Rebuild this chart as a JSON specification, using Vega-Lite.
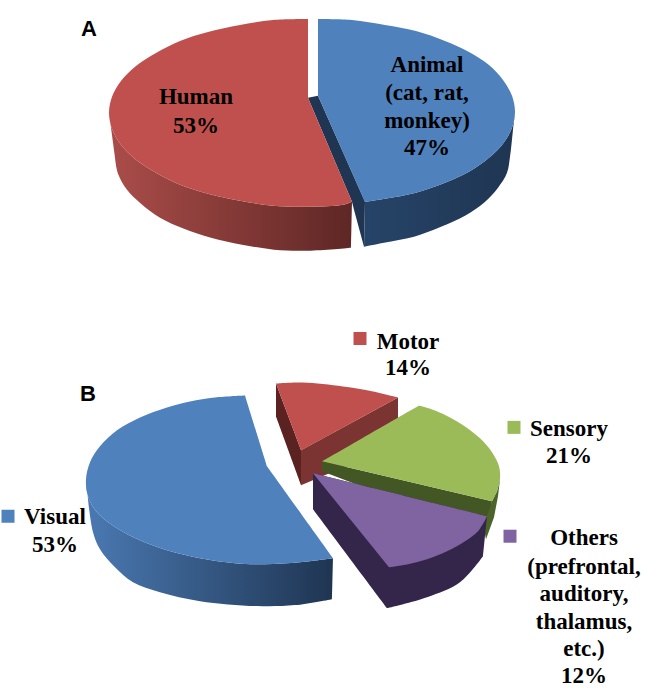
{
"$schema":"https://vega.github.io/schema/vega-lite/v6.json",
"width":645,"height":688,"padding":0,
"autosize":{"type":"fit","contains":"padding"},
"background":"white",
"config":{"view":{"stroke":null}},
"datasets":{
"outlines":[
{"shape":"a_blue_wall","seq":1,"x":318,"y":96},{"shape":"a_blue_wall","seq":2,"x":308,"y":98},{"shape":"a_blue_wall","seq":3,"x":352,"y":202},{"shape":"a_blue_wall","seq":4,"x":354,"y":210},{"shape":"a_blue_wall","seq":5,"x":364,"y":247},{"shape":"a_blue_wall","seq":6,"x":365,"y":202},
{"shape":"a_blue_side","seq":1,"x":365,"y":202},{"shape":"a_blue_side","seq":2,"x":385,"y":199},{"shape":"a_blue_side","seq":3,"x":416,"y":193},{"shape":"a_blue_side","seq":4,"x":445,"y":183},{"shape":"a_blue_side","seq":5,"x":469,"y":172},{"shape":"a_blue_side","seq":6,"x":489,"y":158},{"shape":"a_blue_side","seq":7,"x":503,"y":144},{"shape":"a_blue_side","seq":8,"x":512,"y":128},{"shape":"a_blue_side","seq":9,"x":515,"y":112},{"shape":"a_blue_side","seq":9.5,"x":515,"y":112},{"shape":"a_blue_side","seq":10,"x":513,"y":130},{"shape":"a_blue_side","seq":11,"x":510,"y":157},{"shape":"a_blue_side","seq":12,"x":507,"y":173},{"shape":"a_blue_side","seq":13,"x":498,"y":188},{"shape":"a_blue_side","seq":14,"x":484,"y":203},{"shape":"a_blue_side","seq":15,"x":465,"y":216},{"shape":"a_blue_side","seq":16,"x":441,"y":227},{"shape":"a_blue_side","seq":17,"x":414,"y":237},{"shape":"a_blue_side","seq":18,"x":384,"y":243},{"shape":"a_blue_side","seq":19,"x":364,"y":247},
{"shape":"a_red_side","seq":1,"x":109,"y":113},{"shape":"a_red_side","seq":2,"x":112,"y":129},{"shape":"a_red_side","seq":3,"x":121,"y":145},{"shape":"a_red_side","seq":4,"x":136,"y":160},{"shape":"a_red_side","seq":5,"x":156,"y":173},{"shape":"a_red_side","seq":6,"x":180,"y":185},{"shape":"a_red_side","seq":7,"x":208,"y":194},{"shape":"a_red_side","seq":8,"x":240,"y":201},{"shape":"a_red_side","seq":9,"x":273,"y":206},{"shape":"a_red_side","seq":10,"x":308,"y":207},{"shape":"a_red_side","seq":11,"x":343,"y":205},{"shape":"a_red_side","seq":12,"x":352,"y":202},{"shape":"a_red_side","seq":12.5,"x":352,"y":202},{"shape":"a_red_side","seq":13,"x":351,"y":248},{"shape":"a_red_side","seq":13.5,"x":351,"y":248},{"shape":"a_red_side","seq":14,"x":308,"y":251},{"shape":"a_red_side","seq":15,"x":274,"y":250},{"shape":"a_red_side","seq":16,"x":242,"y":245},{"shape":"a_red_side","seq":17,"x":211,"y":238},{"shape":"a_red_side","seq":18,"x":184,"y":229},{"shape":"a_red_side","seq":19,"x":160,"y":218},{"shape":"a_red_side","seq":20,"x":141,"y":204},{"shape":"a_red_side","seq":21,"x":127,"y":190},{"shape":"a_red_side","seq":22,"x":118,"y":174},{"shape":"a_red_side","seq":23,"x":115,"y":158},
{"shape":"a_red_top","seq":1,"x":352,"y":202},{"shape":"a_red_top","seq":2,"x":343,"y":205},{"shape":"a_red_top","seq":3,"x":308,"y":207},{"shape":"a_red_top","seq":4,"x":273,"y":206},{"shape":"a_red_top","seq":5,"x":240,"y":201},{"shape":"a_red_top","seq":6,"x":208,"y":194},{"shape":"a_red_top","seq":7,"x":180,"y":185},{"shape":"a_red_top","seq":8,"x":156,"y":173},{"shape":"a_red_top","seq":9,"x":136,"y":160},{"shape":"a_red_top","seq":10,"x":121,"y":145},{"shape":"a_red_top","seq":11,"x":112,"y":129},{"shape":"a_red_top","seq":12,"x":109,"y":113},{"shape":"a_red_top","seq":13,"x":112,"y":97},{"shape":"a_red_top","seq":14,"x":121,"y":81},{"shape":"a_red_top","seq":15,"x":136,"y":66},{"shape":"a_red_top","seq":16,"x":156,"y":53},{"shape":"a_red_top","seq":17,"x":180,"y":41},{"shape":"a_red_top","seq":18,"x":208,"y":32},{"shape":"a_red_top","seq":19,"x":240,"y":25},{"shape":"a_red_top","seq":20,"x":273,"y":20},{"shape":"a_red_top","seq":21,"x":308,"y":19},{"shape":"a_red_top","seq":21.5,"x":308,"y":19},{"shape":"a_red_top","seq":22,"x":308,"y":98},
{"shape":"a_blue_top","seq":1,"x":318,"y":19},{"shape":"a_blue_top","seq":2,"x":352,"y":20},{"shape":"a_blue_top","seq":3,"x":385,"y":25},{"shape":"a_blue_top","seq":4,"x":416,"y":31},{"shape":"a_blue_top","seq":5,"x":445,"y":41},{"shape":"a_blue_top","seq":6,"x":469,"y":52},{"shape":"a_blue_top","seq":7,"x":489,"y":65},{"shape":"a_blue_top","seq":8,"x":503,"y":80},{"shape":"a_blue_top","seq":9,"x":512,"y":96},{"shape":"a_blue_top","seq":10,"x":515,"y":112},{"shape":"a_blue_top","seq":11,"x":512,"y":128},{"shape":"a_blue_top","seq":12,"x":503,"y":144},{"shape":"a_blue_top","seq":13,"x":489,"y":158},{"shape":"a_blue_top","seq":14,"x":469,"y":172},{"shape":"a_blue_top","seq":15,"x":445,"y":183},{"shape":"a_blue_top","seq":16,"x":416,"y":193},{"shape":"a_blue_top","seq":17,"x":385,"y":199},{"shape":"a_blue_top","seq":18,"x":365,"y":202},{"shape":"a_blue_top","seq":18.5,"x":365,"y":202},{"shape":"a_blue_top","seq":19,"x":318,"y":96},
{"shape":"b_blue_side","seq":1,"x":86,"y":480},{"shape":"b_blue_side","seq":2,"x":88,"y":497},{"shape":"b_blue_side","seq":3,"x":97,"y":513},{"shape":"b_blue_side","seq":4,"x":117,"y":529},{"shape":"b_blue_side","seq":5,"x":140,"y":541},{"shape":"b_blue_side","seq":6,"x":167,"y":551},{"shape":"b_blue_side","seq":7,"x":200,"y":559},{"shape":"b_blue_side","seq":8,"x":235,"y":564},{"shape":"b_blue_side","seq":9,"x":265,"y":565},{"shape":"b_blue_side","seq":10,"x":300,"y":563},{"shape":"b_blue_side","seq":11,"x":333,"y":559},{"shape":"b_blue_side","seq":11.5,"x":333,"y":559},{"shape":"b_blue_side","seq":12,"x":332,"y":600},{"shape":"b_blue_side","seq":12.5,"x":332,"y":600},{"shape":"b_blue_side","seq":13,"x":295,"y":606},{"shape":"b_blue_side","seq":14,"x":257,"y":607},{"shape":"b_blue_side","seq":15,"x":200,"y":602},{"shape":"b_blue_side","seq":16,"x":160,"y":593},{"shape":"b_blue_side","seq":17,"x":133,"y":583},{"shape":"b_blue_side","seq":18,"x":115,"y":568},{"shape":"b_blue_side","seq":19,"x":100,"y":550},{"shape":"b_blue_side","seq":20,"x":93,"y":533},{"shape":"b_blue_side","seq":21,"x":88,"y":500},
{"shape":"b_blue_top","seq":1,"x":245,"y":396},{"shape":"b_blue_top","seq":1.5,"x":245,"y":396},{"shape":"b_blue_top","seq":2,"x":267,"y":467},{"shape":"b_blue_top","seq":2.5,"x":267,"y":467},{"shape":"b_blue_top","seq":3,"x":333,"y":559},{"shape":"b_blue_top","seq":3.5,"x":333,"y":559},{"shape":"b_blue_top","seq":4,"x":300,"y":563},{"shape":"b_blue_top","seq":5,"x":265,"y":565},{"shape":"b_blue_top","seq":6,"x":235,"y":564},{"shape":"b_blue_top","seq":7,"x":200,"y":559},{"shape":"b_blue_top","seq":8,"x":167,"y":551},{"shape":"b_blue_top","seq":9,"x":140,"y":541},{"shape":"b_blue_top","seq":10,"x":117,"y":529},{"shape":"b_blue_top","seq":11,"x":97,"y":513},{"shape":"b_blue_top","seq":12,"x":88,"y":497},{"shape":"b_blue_top","seq":13,"x":86,"y":480},{"shape":"b_blue_top","seq":14,"x":90,"y":463},{"shape":"b_blue_top","seq":15,"x":100,"y":447},{"shape":"b_blue_top","seq":16,"x":117,"y":431},{"shape":"b_blue_top","seq":17,"x":140,"y":418},{"shape":"b_blue_top","seq":18,"x":167,"y":408},{"shape":"b_blue_top","seq":19,"x":190,"y":402},{"shape":"b_blue_top","seq":20,"x":215,"y":398},{"shape":"b_blue_top","seq":21,"x":245,"y":396},
{"shape":"b_red_wall_l","seq":1,"x":276,"y":384},{"shape":"b_red_wall_l","seq":2,"x":301,"y":451},{"shape":"b_red_wall_l","seq":3,"x":301,"y":486},{"shape":"b_red_wall_l","seq":4,"x":276,"y":417},
{"shape":"b_red_wall_r","seq":1,"x":301,"y":451},{"shape":"b_red_wall_r","seq":2,"x":398,"y":398},{"shape":"b_red_wall_r","seq":3,"x":398,"y":445},{"shape":"b_red_wall_r","seq":4,"x":301,"y":486},
{"shape":"b_red_top","seq":1,"x":276,"y":384},{"shape":"b_red_top","seq":2,"x":303,"y":383},{"shape":"b_red_top","seq":3,"x":343,"y":387},{"shape":"b_red_top","seq":4,"x":373,"y":392},{"shape":"b_red_top","seq":5,"x":398,"y":398},{"shape":"b_red_top","seq":5.5,"x":398,"y":398},{"shape":"b_red_top","seq":6,"x":301,"y":451},
{"shape":"b_green_wall","seq":1,"x":322,"y":462},{"shape":"b_green_wall","seq":2,"x":492,"y":502},{"shape":"b_green_wall","seq":3,"x":487,"y":535},{"shape":"b_green_wall","seq":4,"x":322,"y":472},
{"shape":"b_green_side","seq":1,"x":492,"y":502},{"shape":"b_green_side","seq":2,"x":497,"y":492},{"shape":"b_green_side","seq":3,"x":500,"y":480},{"shape":"b_green_side","seq":4,"x":498,"y":497},{"shape":"b_green_side","seq":5,"x":494,"y":518},{"shape":"b_green_side","seq":6,"x":486,"y":540},{"shape":"b_green_side","seq":7,"x":484,"y":530},{"shape":"b_green_side","seq":8,"x":487,"y":517},
{"shape":"b_green_top","seq":1,"x":322,"y":462},{"shape":"b_green_top","seq":1.5,"x":322,"y":462},{"shape":"b_green_top","seq":2,"x":419,"y":406},{"shape":"b_green_top","seq":2.5,"x":419,"y":406},{"shape":"b_green_top","seq":3,"x":435,"y":411},{"shape":"b_green_top","seq":4,"x":450,"y":418},{"shape":"b_green_top","seq":5,"x":465,"y":427},{"shape":"b_green_top","seq":6,"x":480,"y":439},{"shape":"b_green_top","seq":7,"x":492,"y":453},{"shape":"b_green_top","seq":8,"x":499,"y":467},{"shape":"b_green_top","seq":9,"x":500,"y":480},{"shape":"b_green_top","seq":10,"x":497,"y":492},{"shape":"b_green_top","seq":11,"x":492,"y":502},
{"shape":"b_purple_side","seq":1,"x":313,"y":474},{"shape":"b_purple_side","seq":1.5,"x":313,"y":474},{"shape":"b_purple_side","seq":2,"x":313,"y":510},{"shape":"b_purple_side","seq":2.5,"x":313,"y":510},{"shape":"b_purple_side","seq":3,"x":387,"y":609},{"shape":"b_purple_side","seq":3.5,"x":387,"y":609},{"shape":"b_purple_side","seq":4,"x":427,"y":598},{"shape":"b_purple_side","seq":5,"x":460,"y":583},{"shape":"b_purple_side","seq":6,"x":483,"y":557},{"shape":"b_purple_side","seq":6.5,"x":483,"y":557},{"shape":"b_purple_side","seq":7,"x":487,"y":517},
{"shape":"b_purple_top","seq":1,"x":313,"y":474},{"shape":"b_purple_top","seq":1.5,"x":313,"y":474},{"shape":"b_purple_top","seq":2,"x":487,"y":517},{"shape":"b_purple_top","seq":2.5,"x":487,"y":517},{"shape":"b_purple_top","seq":3,"x":478,"y":532},{"shape":"b_purple_top","seq":4,"x":465,"y":542},{"shape":"b_purple_top","seq":5,"x":447,"y":552},{"shape":"b_purple_top","seq":6,"x":427,"y":560},{"shape":"b_purple_top","seq":7,"x":408,"y":565},{"shape":"b_purple_top","seq":8,"x":389,"y":568}
],
"serifLabels":[
{"text":"Human","x":196,"y":97},{"text":"53%","x":196,"y":126},
{"text":"Animal","x":427,"y":65},{"text":"(cat, rat,","x":427,"y":93},{"text":"monkey)","x":427,"y":121},{"text":"47%","x":427,"y":148},
{"text":"Visual","x":55,"y":518},{"text":"53%","x":55,"y":546},
{"text":"Motor","x":408,"y":342},{"text":"14%","x":408,"y":369},
{"text":"Sensory","x":569,"y":430},{"text":"21%","x":569,"y":457},
{"text":"Others","x":584,"y":539},{"text":"(prefrontal,","x":584,"y":568},{"text":"auditory,","x":584,"y":595},{"text":"thalamus,","x":584,"y":623},{"text":"etc.)","x":584,"y":650},{"text":"12%","x":584,"y":677}
],
"panels":[{"text":"A","x":89,"y":29},{"text":"B","x":88,"y":395}],
"keys":[{"category":"Visual","x":8,"y":517},{"category":"Motor","x":360,"y":339},{"category":"Sensory","x":514,"y":428},{"category":"Others","x":510,"y":537}]
},
"encoding":{
"x":{"field":"x","type":"quantitative","scale":{"domain":[0,645]},"axis":null},
"y":{"field":"y","type":"quantitative","scale":{"domain":[688,0]},"axis":null}
},
"layer":[
{"data":{"name":"outlines"},"transform":[{"filter":{"field":"shape","equal":"a_blue_wall"}}],"mark":{"type":"line","fill":"#1f3552","strokeWidth":0},"encoding":{"order":{"field":"seq"}}},
{"data":{"name":"outlines"},"transform":[{"filter":{"field":"shape","equal":"a_blue_side"}}],"mark":{"type":"line","interpolate":"catmull-rom","strokeWidth":0,"fill":{"gradient":"linear","x1":0,"x2":1,"y1":0,"y2":0,"stops":[{"offset":0,"color":"#264468"},{"offset":1,"color":"#1f3552"}]}},"encoding":{"order":{"field":"seq"}}},
{"data":{"name":"outlines"},"transform":[{"filter":{"field":"shape","equal":"a_red_side"}}],"mark":{"type":"line","interpolate":"catmull-rom","strokeWidth":0,"fill":{"gradient":"linear","x1":0,"x2":1,"y1":0,"y2":0,"stops":[{"offset":0,"color":"#ab4d4a"},{"offset":1,"color":"#5e2725"}]}},"encoding":{"order":{"field":"seq"}}},
{"data":{"name":"outlines"},"transform":[{"filter":{"field":"shape","equal":"a_red_top"}}],"mark":{"type":"line","interpolate":"catmull-rom","fill":"#c0504d","strokeWidth":0},"encoding":{"order":{"field":"seq"}}},
{"data":{"name":"outlines"},"transform":[{"filter":{"field":"shape","equal":"a_blue_top"}}],"mark":{"type":"line","interpolate":"catmull-rom","fill":"#4f81bd","strokeWidth":0},"encoding":{"order":{"field":"seq"}}},
{"data":{"name":"outlines"},"transform":[{"filter":{"field":"shape","equal":"b_blue_side"}}],"mark":{"type":"line","interpolate":"catmull-rom","strokeWidth":0,"fill":{"gradient":"linear","x1":0,"x2":1,"y1":0,"y2":0,"stops":[{"offset":0,"color":"#4a79b2"},{"offset":1,"color":"#1f3552"}]}},"encoding":{"order":{"field":"seq"}}},
{"data":{"name":"outlines"},"transform":[{"filter":{"field":"shape","equal":"b_blue_top"}}],"mark":{"type":"line","interpolate":"catmull-rom","fill":"#4f81bd","strokeWidth":0},"encoding":{"order":{"field":"seq"}}},
{"data":{"name":"outlines"},"transform":[{"filter":{"field":"shape","equal":"b_red_wall_l"}}],"mark":{"type":"line","fill":"#5a2220","strokeWidth":0},"encoding":{"order":{"field":"seq"}}},
{"data":{"name":"outlines"},"transform":[{"filter":{"field":"shape","equal":"b_red_wall_r"}}],"mark":{"type":"line","fill":"#7b3432","strokeWidth":0},"encoding":{"order":{"field":"seq"}}},
{"data":{"name":"outlines"},"transform":[{"filter":{"field":"shape","equal":"b_red_top"}}],"mark":{"type":"line","interpolate":"catmull-rom","fill":"#c0504d","strokeWidth":0},"encoding":{"order":{"field":"seq"}}},
{"data":{"name":"outlines"},"transform":[{"filter":{"field":"shape","equal":"b_green_wall"}}],"mark":{"type":"line","fill":"#435724","strokeWidth":0},"encoding":{"order":{"field":"seq"}}},
{"data":{"name":"outlines"},"transform":[{"filter":{"field":"shape","equal":"b_green_side"}}],"mark":{"type":"line","fill":"#4c6329","strokeWidth":0},"encoding":{"order":{"field":"seq"}}},
{"data":{"name":"outlines"},"transform":[{"filter":{"field":"shape","equal":"b_green_top"}}],"mark":{"type":"line","interpolate":"catmull-rom","fill":"#9bbb59","strokeWidth":0},"encoding":{"order":{"field":"seq"}}},
{"data":{"name":"outlines"},"transform":[{"filter":{"field":"shape","equal":"b_purple_side"}}],"mark":{"type":"line","interpolate":"catmull-rom","fill":"#33264a","strokeWidth":0},"encoding":{"order":{"field":"seq"}}},
{"data":{"name":"outlines"},"transform":[{"filter":{"field":"shape","equal":"b_purple_top"}}],"mark":{"type":"line","interpolate":"catmull-rom","fill":"#8064a2","strokeWidth":0},"encoding":{"order":{"field":"seq"}}},
{"data":{"name":"keys"},"mark":{"type":"square","size":169,"opacity":1},"encoding":{"color":{"field":"category","type":"nominal","legend":null,"scale":{"domain":["Visual","Motor","Sensory","Others"],"range":["#4f81bd","#c0504d","#9bbb59","#8064a2"]}}}},
{"data":{"name":"serifLabels"},"mark":{"type":"text","font":"Liberation Serif","fontWeight":"bold","fontSize":23,"color":"#000000","align":"center","baseline":"middle"},"encoding":{"text":{"field":"text"}}},
{"data":{"name":"panels"},"mark":{"type":"text","font":"Liberation Sans","fontWeight":"bold","fontSize":22,"color":"#000000","align":"center","baseline":"middle"},"encoding":{"text":{"field":"text"}}}
]
}
